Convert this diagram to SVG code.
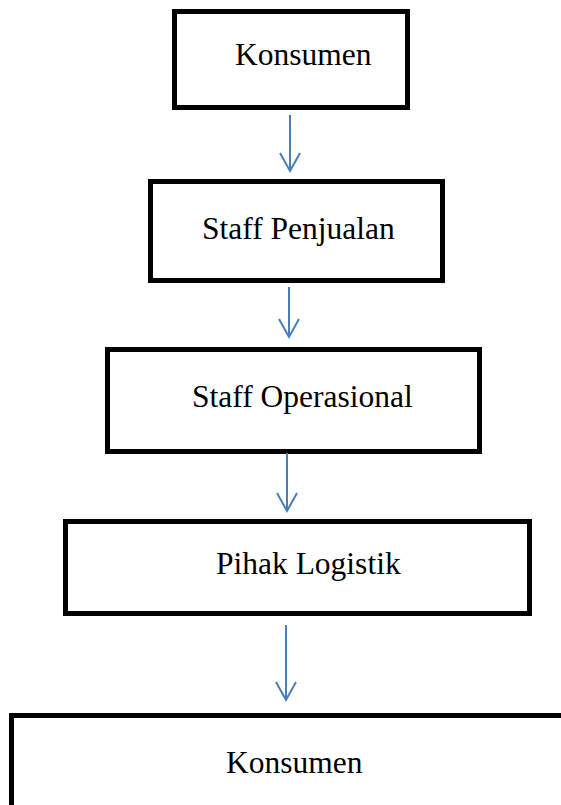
<svg xmlns="http://www.w3.org/2000/svg" width="561" height="805" viewBox="0 0 561 805">
  <style>
    .box { fill: #ffffff; stroke: #000000; stroke-width: 5; }
    .lbl { font-family: "Liberation Serif", "Times New Roman", serif; font-size: 31.5px; fill: #000000; }
    .conn { fill: none; stroke: #4a7ebb; stroke-width: 2; }
  </style>
  <defs>
    <marker id="vhead" viewBox="-22 -14 26 28" refX="0" refY="0" markerWidth="26" markerHeight="28" markerUnits="userSpaceOnUse" orient="auto">
      <path d="M-18,-10 L0,0 L-18,10" fill="none" stroke="#4a7ebb" stroke-width="2"/>
    </marker>
  </defs>
  <rect width="561" height="805" fill="#ffffff"/>
  <g id="node-konsumen-1">
    <rect class="box" x="174.5" y="11.5" width="233" height="96"/>
    <text class="lbl" x="235" y="65">Konsumen</text>
  </g>
  <g id="node-staff-penjualan">
    <rect class="box" x="150.5" y="181.5" width="292" height="99"/>
    <text class="lbl" x="202" y="239">Staff Penjualan</text>
  </g>
  <g id="node-staff-operasional">
    <rect class="box" x="107.5" y="349.5" width="372" height="102"/>
    <text class="lbl" x="192" y="407">Staff Operasional</text>
  </g>
  <g id="node-pihak-logistik">
    <rect class="box" x="65.5" y="521.5" width="464" height="92"/>
    <text class="lbl" x="216" y="574">Pihak Logistik</text>
  </g>
  <g id="node-konsumen-2">
    <rect class="box" x="11.5" y="715.5" width="600" height="200"/>
    <text class="lbl" x="226" y="773">Konsumen</text>
  </g>
  <g id="connectors">
    <path class="conn" d="M290,115 L290,171" marker-end="url(#vhead)"/>
    <path class="conn" d="M289,287 L289,337" marker-end="url(#vhead)"/>
    <path class="conn" d="M287,453 L287,511" marker-end="url(#vhead)"/>
    <path class="conn" d="M286,625 L286,700" marker-end="url(#vhead)"/>
  </g>
</svg>
